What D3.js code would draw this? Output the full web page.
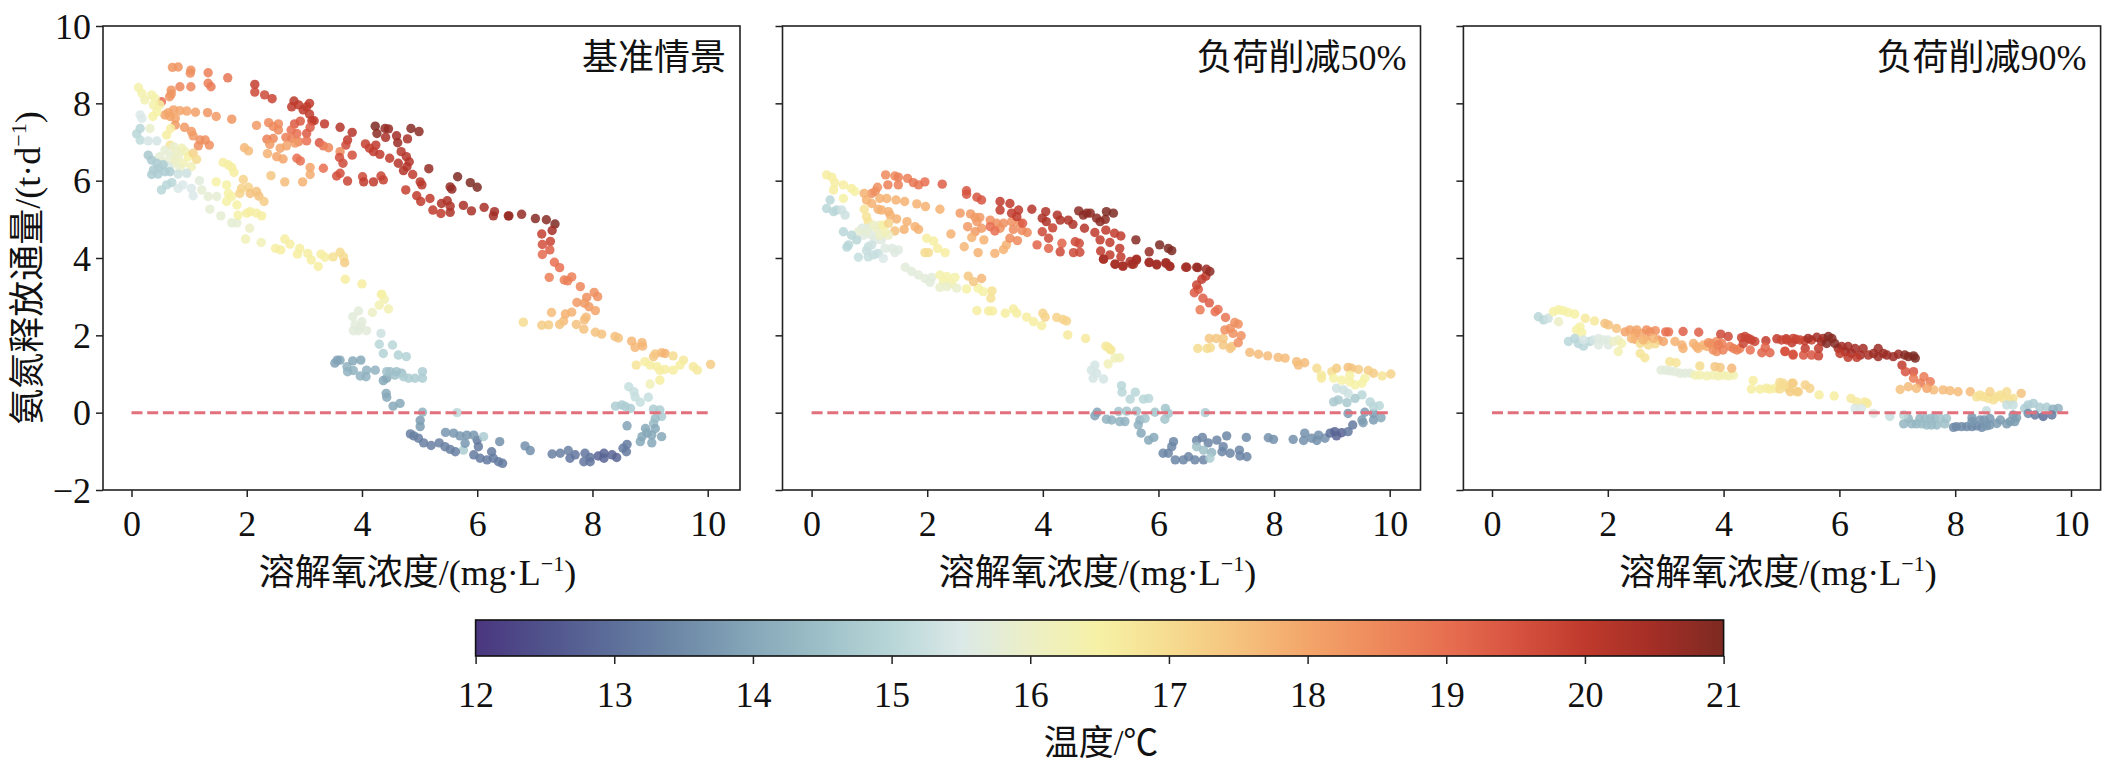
<!DOCTYPE html>
<html><head><meta charset="utf-8">
<style>html,body{margin:0;padding:0;background:#fff}svg{display:block}
text{font-family:"Liberation Serif","Noto Sans CJK SC",serif;fill:#111}</style>
<script src="https://cdn.jsdelivr.net/npm/d3@7/dist/d3.min.js"></script></head><body><svg id="c" width="2106" height="774"></svg>
<script>
const xTicks=[0,2,4,6,8,10], yTicks=[-2,0,2,4,6,8,10], tempTicks=[12,13,14,15,16,17,18,19,20,21];
const panelTitles=["基准情景","负荷削减50%","负荷削减90%"];
const tempStops=[12,12.5,13,13.5,14,14.5,15,15.5,16,16.5,17,17.5,18,18.5,19,19.5,20,20.5,21];
const tempColors=["#4a367f","#50538c","#5d6f9a","#6f8ba8","#86a8b9","#9dc0c8","#b8d6d8","#dbe9e7","#ecefc6","#f6f1a5","#f6dc90","#f5c27e","#f3a56a","#ee8a5c","#e76f50","#d75340","#bf3a2c","#a32e26","#7d2a22"];
// each row: temperature, then [DO, NH3-N flux] readings
const baseline=[
[18.3,[[.71,8.93],[.81,8.94]]],[18.4,[[1.03,8.86],[1.02,8.78]]],[18.7,[[1.33,8.79]]],[18.9,[[1.67,8.66]]],
[19.9,[[2.14,8.49]]],[19.7,[[2.14,8.29],[2.31,8.22]]],[19.8,[[2.44,8.12]]],
[20.1,[[2.82,8.06]]],[20,[[2.78,7.91],[2.9,7.96],[2.98,7.83],[3.09,8.0],[3.04,7.91],[3.09,7.72],[3.13,7.55],[3.17,7.55]]],
[19.4,[[3.1,7.38],[3.04,7.22],[2.93,7.54],[2.83,7.47]]],[19,[[2.77,7.31],[2.87,7.22],[3.04,7.03]]],[18.7,[[2.68,7.12],[2.78,7.09],[2.9,7.01]]],
[18.5,[[2.38,7.5],[2.55,7.47],[2.46,7.4],[2.55,7.31],[2.46,7.09]]],[18.7,[[2.35,7.07]]],[18.2,[[2.4,6.94],[2.17,7.43]]],
[18.3,[[1.74,7.59],[1.32,7.76]]],[18.2,[[1.47,7.66]]],[18.1,[[1.11,7.77]]],[18,[[.96,7.8],[.84,7.81],[.73,7.83],[.64,7.76],[.58,7.7],[.67,7.66],[.76,7.61]]],
[18.2,[[.76,7.44],[.92,7.38],[1.04,7.27],[1.07,7.16]]],[18.4,[[1.19,7.05],[1.28,7.05],[1.35,6.92],[1.16,6.9]]],
[18.6,[[.84,8.43],[1.03,8.43]]],[18.7,[[1.33,8.52]]],[18.8,[[1.38,8.43]]],[18.3,[[.69,8.34],[.69,8.24],[.66,8.17]]],[19,[[.52,8.04]]],
[17.7,[[1.96,6.85]]],[17.6,[[2.03,6.77]]],[17.8,[[2.36,6.7]]],[18,[[2.52,6.62],[2.58,6.84],[2.69,6.9],[2.63,6.56]]],[18.2,[[2.84,6.97]]],
[19,[[2.87,6.58],[2.93,6.51],[3.33,6.32]]],[18,[[3.1,6.34]]],[17.9,[[3.1,6.16]]],[17.4,[[2.42,6.13]]],[17.6,[[2.66,5.97]]],[17.8,[[2.97,5.97]]],
[19.5,[[3.26,6.98]]],[18.9,[[3.33,6.9]]],[18.6,[[3.42,6.85]]],[20,[[3.35,7.47],[3.75,7.05]]],[20.2,[[3.62,7.38],[3.83,7.25]]],[19.7,[[3.72,6.92],[3.67,6.45],[4.01,6.1]]],[18.5,[[3.62,6.75]]],
[19.6,[[3.61,6.6],[3.83,6.66],[3.56,6.12],[3.62,6.19]]],[19.8,[[3.75,5.99],[4.33,6.12]]],[20,[[4.03,5.97],[4.2,5.97]]],[19.9,[[4.37,6.02]]],
[21,[[4.23,7.41]]],[20.8,[[4.26,7.22],[4.99,7.27]]],[20.7,[[4.4,7.35],[4.46,7.34]]],[20.4,[[4.41,7.12],[4.79,7.08]]],[20.5,[[4.6,7.16]]],[20.6,[[4.62,6.98]]],[20.9,[[4.85,7.35]]],
[19.9,[[4.06,6.95],[4.13,6.84]]],[20,[[4.24,6.92],[4.2,6.75],[4.31,6.68],[4.48,6.58]]],[20.2,[[4.68,6.75],[4.77,6.62],[4.82,6.49],[4.63,6.45],[4.78,6.36],[4.72,6.26]]],[20,[[4.88,6.16]]],
[20.7,[[5.16,6.31],[5.53,5.84],[5.56,5.78]]],[20.1,[[5.01,5.97],[5.04,5.89]]],[19.9,[[4.76,5.76]]],[20,[[4.95,5.61],[5.02,5.46],[5.18,5.54],[5.23,5.24],[5.37,5.15]]],
[20.3,[[5.38,5.41],[5.48,5.48],[5.53,5.34],[5.53,5.18]]],[21,[[5.66,6.1],[5.88,5.95],[6.0,5.83]]],[20.4,[[5.76,5.36],[5.9,5.22],[6.12,5.31]]],[20.5,[[6.3,5.2],[6.28,5.09],[6.54,5.09]]],
[20.7,[[6.55,5.09],[6.77,5.13]]],[20.9,[[7.01,5.02],[7.2,4.99]]],[21,[[7.35,4.88]]],[20.5,[[7.3,4.71]]],[19.9,[[7.12,4.62]]],[19.8,[[7.27,4.43]]],[19.6,[[7.13,4.35]]],[19.3,[[7.26,4.21]]],[19.1,[[7.13,4.09]]],
[19,[[7.34,3.89],[7.43,3.75]]],[18.7,[[7.25,3.5],[7.51,3.43],[7.57,3.41],[7.64,3.51]]],[18.6,[[7.79,3.26]]],[18.4,[[8.03,3.11],[8.09,3.0],[7.9,2.98]]],[18.2,[[7.73,2.85],[7.86,2.83],[7.94,2.74]]],[18,[[8.05,2.64]]],
[17.6,[[7.29,2.59],[7.89,2.47],[7.86,2.4],[7.5,2.37]]],[17.8,[[7.64,2.6],[7.53,2.55]]],[17.5,[[7.43,2.28],[7.72,2.28],[7.85,2.16],[8.05,2.08],[8.16,2.03],[8.39,1.97],[8.45,1.93]]],[17,[[6.8,2.34]]],[17.3,[[7.12,2.26],[7.24,2.27]]],
[17.7,[[8.68,1.85],[8.74,1.69],[8.86,1.81],[8.87,1.72]]],[17.4,[[9.09,1.52],[9.06,1.45]]],[17.6,[[9.2,1.55]]],[17.8,[[9.26,1.53]]],[17,[[9.4,1.47]]],[16.7,[[9.58,1.36],[9.75,1.19],[9.82,1.1]]],[17.3,[[10.05,1.25]]],
[16.8,[[8.76,1.23]]],[16.6,[[8.91,1.32],[9.0,1.23],[9.12,1.19],[9.17,1.09],[9.26,1.12],[9.4,1.1],[9.52,1.23],[9.17,.84]]],[16.2,[[9.0,.74]]],
[15.2,[[8.63,.67],[8.72,.54],[8.74,.41],[8.83,.27],[8.97,.4]]],[14.8,[[8.4,.17],[8.51,.2],[8.57,.16],[8.66,.11],[9.06,.09],[9.17,.07],[9.2,-.1]]],[14.4,[[9.09,-.15],[9.06,-.28]]],
[13.9,[[8.6,-.34]]],[14,[[9.2,-.62],[9.09,-.41],[8.92,-.41],[8.95,-.53],[9.03,-.58],[8.86,-.62],[8.83,-.75],[9.03,-.78]]],
[13.2,[[8.6,-.82],[8.53,-.92],[8.59,-1.01]]],[12.8,[[8.42,-1.16],[8.34,-1.09],[8.2,-1.05],[8.1,-1.12],[8.2,-1.18]]],[13.1,[[7.96,-1.16],[7.87,-1.05],[7.85,-1.27],[7.96,-1.27],[7.7,-1.09],[7.61,-1.18]]],[13.3,[[7.58,-.98],[7.44,-1.05],[7.3,-1.07]]],[13.6,[[6.83,-.86],[6.92,-.98],[6.39,-.75]]],
[13.2,[[6.44,-1.31],[6.37,-1.27],[6.25,-1.01],[6.28,-1.18],[6.17,-1.22],[6.05,-1.18],[5.94,-1.09],[6.02,-.88],[6.0,-.71]]],[14.8,[[6.11,-.62],[5.76,-.97]]],
[13.7,[[5.94,-.58],[5.82,-.58],[5.79,-.79],[5.7,-.6],[5.59,-.53],[5.45,-.51]]],[13.3,[[5.62,-1.01],[5.53,-.95],[5.44,-.88],[5.34,-.78],[5.2,-.85],[5.07,-.78],[4.98,-.66],[4.84,-.55],[4.9,-.6]]],
[13.8,[[5.01,-.36],[5.01,-.2]]],[14.2,[[5.05,.01]]],[15,[[5.65,0]]],[14,[[4.54,.17],[4.66,.24],[4.42,.5],[4.43,.4],[4.37,.83],[4.43,.89]]],
[14.5,[[4.43,1.06],[4.49,1.06],[4.6,1.06],[4.69,1.02],[4.57,.97]]],[14.8,[[4.72,.93],[4.81,.89],[4.92,.89],[5.05,.89],[5.05,1.06]]],
[14.2,[[4.23,1.1],[4.08,1.1],[4.07,.93],[3.97,.95],[3.85,1.09],[3.75,1.06],[3.74,1.19]]],[14,[[3.84,1.34],[3.98,1.36],[3.62,1.36]]],[13.9,[[3.53,1.28],[3.57,1.36]]],
[15.3,[[4.33,2.05]]],[15,[[4.3,1.77],[4.53,1.75]]],[14.9,[[4.37,1.53],[4.63,1.49],[4.77,1.45]]],[16.6,[[3.71,3.45],[4.0,3.33]]],[16.3,[[4.34,3.06],[4.39,2.93],[4.3,2.78],[4.46,2.68]]],[16,[[4.18,2.59]]],
[15.7,[[3.94,2.63],[3.84,2.48],[4.0,2.35],[3.85,2.12],[3.94,2.12],[4.08,2.12],[3.98,2.22],[3.88,2.27]]],
[16.4,[[.12,8.41],[.18,8.26],[.35,8.22],[.41,8.13],[.38,7.96]]],[16.3,[[.23,8.09]]],[16.5,[[.49,7.96],[.44,7.78],[.37,7.66]]],[15.9,[[.32,7.35]]],[15.5,[[.15,7.7],[.18,7.61]]],[15,[[.15,7.35],[.09,7.21]]],[15.1,[[.15,7.05]]],[15.4,[[.29,7.03],[.44,7.03]]],[16.6,[[.61,7.18],[.68,7.35]]],[16.8,[[.67,6.92]]],
[15.8,[[.58,6.79],[.67,6.66],[.58,6.49],[.49,6.62]]],[15.9,[[.73,6.88],[.73,6.45],[.84,6.32]]],[16.2,[[.87,6.84],[.9,6.45],[1.04,6.36],[.93,6.75]]],[16,[[.81,6.62],[.78,6.75],[.75,6.53]]],[16.5,[[.99,6.62]]],[17.2,[[1.07,6.71]]],[17,[[1.13,6.55]]],
[14.7,[[.29,6.66],[.35,6.53],[.47,6.32]]],[15.5,[[.64,6.36]]],[14.8,[[.44,6.45],[.38,6.28],[.35,6.16],[.46,6.17],[.58,6.23],[.67,6.23],[.55,6.41]]],[15.3,[[.81,6.17],[.96,6.19]]],[15,[[.7,5.95],[.61,5.89],[.52,5.76]]],[15.5,[[.89,5.89],[.81,5.8],[1.04,5.8],[1.07,5.61]]],
[15.7,[[1.18,6.0]]],[15.8,[[1.22,5.76],[1.33,5.59],[1.36,5.26],[1.48,5.59],[1.55,5.09],[1.74,4.91],[1.83,4.91]]],[16,[[2.05,4.77]]],[16.2,[[1.98,4.49],[2.25,4.4]]],
[16.5,[[1.47,5.97],[1.65,5.89],[1.68,5.67],[1.65,5.46],[1.83,5.37],[1.85,5.11],[1.74,5.59]]],[16.6,[[2.06,5.2],[2.17,5.16],[2.26,5.09],[2.0,5.16],[1.59,6.47],[1.68,6.41],[1.74,6.34],[1.78,6.21]]],
[17.2,[[1.94,6.03],[1.91,5.8],[2.03,5.83],[1.88,5.67]]],[17.5,[[2.06,5.67],[2.17,5.72],[2.21,5.6]]],[17.3,[[2.3,5.46]]],
[16.6,[[2.66,4.49],[2.75,4.36],[2.5,4.25],[2.59,4.21],[2.92,4.25],[2.88,4.1],[3.06,4.12],[3.12,3.95],[3.24,3.78],[3.29,4.1],[3.36,4.02]]],[16.9,[[3.5,4.03]]],[17,[[3.62,4.15],[3.68,4.03]]],[17.3,[[3.7,3.88]]],[16.5,[[4.34,3.06]]]
];
const cut50=[
[16.6,[[.26,6.15],[.35,6.09],[.4,5.95],[.38,5.76],[.55,5.89],[.69,5.8]]],[16.5,[[.75,5.72],[.55,5.54]]],[15,[[.32,5.5],[.26,5.28],[.38,5.2],[.43,5.24]]],[15.3,[[.52,5.24],[.58,5.11]]],[16.8,[[.91,5.26],[.95,5.07],[.98,4.94]]],
[18.5,[[1.28,6.15],[1.44,6.12]]],[18.7,[[1.5,6.09],[1.66,6.06],[1.32,5.89],[1.5,5.89]]],[18.9,[[1.76,5.95],[1.85,5.89]]],[19,[[1.96,5.97]]],[19.3,[[2.26,5.91]]],[18.4,[[1.14,5.83],[1.1,5.72],[1.04,5.67]]],
[17.8,[[.91,5.67],[.95,5.5],[1.04,5.41],[1.18,5.54],[1.3,5.54],[1.15,5.26],[1.21,5.24],[1.46,5.5],[1.61,5.46],[1.82,5.4],[1.97,5.33],[2.22,5.26],[1.33,5.2],[1.36,5.11],[1.47,5.01],[1.65,4.94],[1.6,4.74],[1.79,4.81],[1.85,4.74]]],[17.5,[[1.44,4.7]]],
[18.2,[[2.57,5.16],[2.75,5.14],[2.83,5.05],[2.91,5.05],[2.86,4.94],[2.94,4.77],[2.83,4.68],[2.7,4.81]]],[18.4,[[3.09,4.98],[3.2,4.9],[3.32,4.9],[3.46,4.94],[3.6,4.9],[3.26,4.77]]],[17.8,[[2.77,4.53],[2.41,4.62],[2.98,4.47],[2.88,4.14],[3.17,4.12],[3.32,4.22],[3.37,4.34]]],[17.7,[[2.64,4.29]]],
[18.5,[[3.43,4.51],[3.56,4.45],[3.73,4.66],[3.64,4.71],[3.49,4.74]]],[19,[[3.17,4.7],[3.09,4.81]]],[19.4,[[3.65,4.9]]],
[19.5,[[2.68,5.74],[2.68,5.65],[2.86,5.57],[2.94,5.5]]],[20,[[3.26,5.46],[3.26,5.24],[3.43,5.41],[3.46,5.16],[3.58,5.24],[3.55,5.07]]],[20.2,[[3.81,5.26]]],[20.3,[[4.05,5.2],[3.99,5.03],[4.06,4.94],[4.25,5.11],[4.3,4.98],[4.44,4.98],[4.52,4.87]]],
[20.8,[[4.62,5.22],[4.7,5.11],[4.76,5.16],[4.82,5.16],[4.93,5.03],[4.99,4.94],[5.08,5.0]]],[20.2,[[4.72,4.77]]],[21,[[5.1,5.2],[5.22,5.16],[6.02,4.34],[6.17,4.25],[6.23,4.19]]],[20,[[4.9,4.66],[5.09,4.72],[4.99,4.47],[5.24,4.64],[5.35,4.57],[5.16,4.4]]],[20.9,[[5.61,4.47]]],
[19.7,[[3.99,4.68],[4.1,4.51]]],[19.9,[[4.17,4.78]]],[19.2,[[3.9,4.34],[4.1,4.25],[4.33,4.38]]],[19.7,[[4.56,4.42],[4.63,4.38],[4.3,4.16],[4.53,4.14],[4.64,4.15]]],
[20,[[5.0,4.18],[5.16,4.08],[5.33,4.25],[5.35,4.03],[5.05,3.97],[5.25,3.84],[5.38,3.79]]],[20.3,[[5.51,3.91],[5.62,3.97],[5.57,3.84]]],[20.7,[[5.84,4.16]]],[20.5,[[5.84,3.89],[5.97,3.84],[6.13,3.88],[6.2,3.78],[6.49,3.76],[6.66,3.76]]],
[16.6,[[1.99,4.51],[2.11,4.44],[2.18,4.25],[2.31,4.14]]],[17,[[1.96,4.14],[2.02,4.14]]],
[15.6,[[.87,4.77],[.98,4.77],[1.04,4.59],[.9,4.59],[1.1,4.47],[1.21,4.47]]],[15.8,[[.95,4.68],[.81,4.68]]],[16,[[1.13,4.77],[1.18,4.59],[1.33,4.59],[1.07,4.85],[1.18,4.85]]],[16.2,[[1.27,4.68]]],[16.5,[[1.24,4.85]]],[17.2,[[1.33,4.9]]],
[15,[[.55,4.68],[.69,4.59],[.78,4.47],[.64,4.34],[.61,4.28]]],[15.2,[[.98,4.29],[.95,4.19],[1.07,4.08],[.81,4.02],[.98,4.03],[1.15,4.12]]],[15.3,[[1.04,4.34]]],[15.5,[[1.24,3.99]]],[15.6,[[1.27,4.25],[1.39,4.25],[1.5,4.21],[1.44,4.14]]],
[15.7,[[1.62,3.76],[1.73,3.65],[1.85,3.56],[1.96,3.47],[2.08,3.5],[2.05,3.37]]],[16.4,[[2.22,3.56],[2.34,3.52],[2.48,3.5],[2.28,3.39],[2.42,3.34]]],[15.9,[[2.22,3.24],[2.34,3.26],[2.51,3.22]]],[16.5,[[2.68,3.2],[2.88,3.22],[2.97,3.13]]],[17.4,[[2.71,3.53],[2.8,3.39]]],[17.7,[[2.94,3.47]]],[16.9,[[3.12,3.15],[3.1,2.96]]],
[16.6,[[2.86,2.64],[3.06,2.63],[3.13,2.63],[3.35,2.57],[3.49,2.68],[3.55,2.57],[3.72,2.47],[3.84,2.35],[3.98,2.25]]],[17.2,[[4.0,2.57],[4.04,2.47],[4.24,2.46],[4.35,2.41],[4.41,2.37]]],[16.7,[[4.43,2.01],[4.74,1.92],[5.09,1.72],[5.16,1.64],[5.13,1.69],[5.18,1.62]]],
[16.2,[[5.33,1.42],[5.25,1.41],[5.13,1.26]]],[15.4,[[4.9,1.23],[4.84,1.1],[4.93,1.02],[4.87,.89],[5.05,.87]]],[15,[[5.36,.7],[5.37,.53],[5.51,.35],[5.6,.53],[5.74,.35],[5.83,.37]]],
[13.9,[[4.9,-.08],[4.94,.01]]],[14.2,[[5.1,-.17],[5.19,-.19],[5.33,-.23],[5.42,-.23],[5.68,-.19],[5.65,-.32]]],[14.6,[[5.31,.03],[5.45,.04],[5.62,.04],[5.77,-.15],[5.94,.01],[6.12,.11],[6.11,-.17],[6.17,-.02]]],[14.8,[[6.81,0]]],
[14,[[5.7,-.53],[5.83,-.71],[5.92,-.64]]],[13.4,[[6.26,-.75],[6.23,-.88],[6.08,-1.05],[6.17,-1.05],[6.29,-1.22],[6.43,-1.22],[6.52,-1.14],[6.63,-1.22],[6.78,-1.22],[6.66,-.72],[6.76,-.64],[6.86,-.78],[7.01,-.71],[7.18,-.6],[7.12,-.88],[7.1,-1.01],[7.24,-1.05],[7.4,-.97],[7.41,-1.12],[7.53,-1.14]]],[13.5,[[7.52,-.64]]],
[14.5,[[6.66,-.88],[6.78,-.97]]],[14.3,[[6.92,-1.03]]],[14.8,[[6.89,-1.18]]],[13.6,[[7.9,-.65],[7.99,-.69],[8.33,-.69],[8.53,-.53],[8.51,-.72],[8.65,-.66],[8.77,-.58],[8.74,-.72],[8.88,-.66]]],
[13,[[8.97,-.53]]],[12.8,[[9.05,-.49],[9.17,-.52],[9.08,-.6]]],[13.2,[[9.28,-.49],[9.36,-.32]]],[13.8,[[9.52,-.19],[9.54,-.26],[9.72,-.19],[9.28,-.02],[9.57,.01],[9.72,-.02]]],[14,[[9.85,-.13]]],
[15,[[9.66,.28],[9.72,.16],[9.82,.18],[9.52,.46]]],[14.7,[[9.03,.28],[9.11,.33],[9.26,.26],[9.4,.37]]],[15.3,[[9.08,.63],[9.2,.59],[9.28,.5]]],
[17,[[8.74,1.15],[9,1.06]]],[16.7,[[8.82,.97],[8.82,.89]]],[17.3,[[9.08,1.15],[9.46,1.12],[9.63,1.09],[9.72,1.02]]],[17.5,[[9.28,1.17],[9.34,1.15]]],[16.8,[[9.87,.95]]],[17.2,[[10.02,1.0]]],[16.5,[[9.17,.84],[9.31,.8],[9.4,.72],[9.52,.76],[9.57,.89],[9.31,.97],[9.03,.89]]],
[17.6,[[7.58,1.56],[7.73,1.51],[7.89,1.47],[8.07,1.43],[8.19,1.41],[8.39,1.32],[8.42,1.23],[8.53,1.29]]],[17,[[6.68,1.66],[6.84,1.66],[6.9,1.68]]],[17.4,[[6.88,1.92],[7,1.92],[7.12,1.92],[7.12,1.75],[7.24,1.66],[7.27,1.71]]],
[18.4,[[7.15,2.14],[7.24,2.18],[7.32,2.33],[7.38,2.29],[7.29,2.05],[7.43,1.99],[7.38,1.81]]],[18.9,[[7.16,2.46]]],[19,[[6.98,2.61],[7.03,2.67]]],[18.8,[[6.72,2.66]]],[19.3,[[6.88,2.84],[6.77,2.96]]],[19.4,[[6.62,3.1],[6.69,3.19]]],[19.8,[[6.66,3.3]]],[20,[[6.75,3.45],[6.82,3.53]]],[20.8,[[6.89,3.65]]],[20.6,[[6.83,3.71]]],[20.7,[[6.68,3.75]]],
[20.5,[[6.47,3.76],[6.19,3.79],[6.13,3.86],[5.97,3.82],[5.84,3.88],[5.62,3.95],[5.54,3.84],[5.39,3.79],[5.25,3.84],[5.05,3.97]]]
];
const cut90=[
[15,[[.8,2.48],[.89,2.4]]],[15.3,[[.97,2.44]]],[16.5,[[1.06,2.61],[1.15,2.66],[1.23,2.64],[1.32,2.59],[1.43,2.55],[1.52,2.22],[1.46,2.14],[1.55,2.07]]],[16,[[1.15,2.35]]],[16.7,[[1.61,2.44],[1.77,2.37]]],[17.5,[[1.95,2.31],[2.01,2.27],[2.15,2.18]]],
[18,[[2.3,2.09],[2.38,2.14],[2.5,2.14],[2.47,2.05],[2.59,2.05],[2.47,1.9],[2.67,1.88]]],[18.4,[[2.67,2.14],[2.82,2.12],[2.73,2.09],[2.87,1.88]]],[19,[[3.0,2.09],[3.05,2.09]]],[19.3,[[3.3,2.1],[3.57,2.08]]],
[15,[[1.32,1.84],[1.43,1.92],[1.49,1.79],[1.58,1.72],[1.69,1.84]]],[15.4,[[1.58,1.88],[1.75,1.88]]],[15.6,[[1.84,1.92],[1.84,1.75],[2,1.88],[1.92,1.88],[2.01,1.75]]],[16,[[2.1,1.84],[2.18,1.88]]],[16.3,[[2.24,1.79],[2.18,1.58]]],[16.8,[[2.56,1.53],[2.64,1.42]]],
[17,[[2.56,1.79],[2.7,1.75],[2.82,1.78]]],[17.7,[[2.41,1.92],[2.61,1.88],[2.79,1.92]]],[18,[[2.96,1.84]]],[17.8,[[3.16,1.84],[3.28,1.75],[3.3,1.66],[3.48,1.79],[3.56,1.66],[3.65,1.75],[3.53,1.71],[3.71,1.71]]],[18.4,[[3.74,1.81],[3.82,1.62],[3.88,1.84],[3.79,1.79],[3.88,1.58]]],[18.7,[[3.97,1.79],[3.99,1.62],[4.17,1.66],[4.28,1.66],[3.91,1.75],[4.11,1.71],[4.23,1.62]]],[19,[[4.46,1.62]]],
[19.7,[[3.95,2.03],[4.08,1.97]]],[19.8,[[4.31,1.94],[4.43,1.92],[4.54,1.84],[4.34,1.79],[4.37,1.97],[4.48,1.88]]],[20,[[4.73,1.86],[4.92,1.91],[5.08,1.91],[5.18,1.81],[5.25,1.9]]],[19.2,[[4.72,1.69],[4.66,1.55],[4.8,1.55]]],[19.5,[[5.06,1.59],[5.2,1.51]]],
[16.8,[[3.07,1.32],[3.18,1.29]]],[15.7,[[2.92,1.1],[3.07,1.08],[3.25,1.02],[3.42,1.02],[3.0,1.1],[3.16,1.06],[3.33,1.02]]],[17,[[3.59,1.21]]],[16.3,[[3.59,.97],[3.82,.97],[3.99,.97],[4.17,.97],[3.51,.97],[3.71,.95],[3.91,.95],[4.08,.95]]],[17.4,[[3.85,1.19],[3.94,1.17]]],[17.7,[[4.14,1.15]]],
[16.6,[[4.51,.83],[4.48,.61],[4.63,.61],[4.8,.61],[4.74,.63],[4.89,.63]]],[17,[[4.97,.78],[4.97,.61],[5.12,.63],[5.26,.54],[5.06,.67]]],[17.2,[[5.18,.76]]],
[19.8,[[5.0,1.88],[5.2,1.92],[5.4,1.86],[5.52,1.88],[5.64,1.47],[5.09,1.88],[5.32,1.88]]],[20.5,[[5.61,1.95],[5.72,1.92],[6.04,1.71],[6.15,1.71],[6.27,1.66],[6.41,1.66],[5.46,1.92],[5.69,1.84],[5.98,1.66],[6.1,1.58],[6.21,1.53],[6.36,1.49]]],[20.9,[[5.87,1.92],[5.92,1.79],[5.81,1.97],[5.78,1.79]]],[20,[[6.01,1.53],[6.15,1.43],[6.3,1.43],[5.41,1.66],[5.64,1.66]]],[20.4,[[6.5,1.49]]],[20.6,[[6.67,1.66],[6.67,1.45],[6.82,1.49],[7.02,1.51],[6.59,1.53],[6.76,1.53],[6.93,1.45]]],[20.9,[[7.13,1.49],[7.19,1.45]]],[21,[[7.28,1.47],[7.31,1.41]]],
[19.5,[[5.06,1.58],[5.2,1.49],[5.38,1.49],[5.52,1.49]]],[20,[[7.08,1.23]]],[19.5,[[7.14,1.06],[7.28,1.06]]],[18.8,[[7.28,.89],[7.46,.93],[7.57,.8],[7.4,.76]]],[17.5,[[7.05,.6]]],[17.6,[[7.19,.67],[7.33,.63],[7.63,.59],[7.79,.59],[7.91,.57],[8.05,.54],[8.26,.54]]],[18,[[7.51,.63]]],
[16.9,[[8.37,.41],[8.49,.41],[8.72,.41],[8.83,.37],[9,.37],[8.43,.46],[8.57,.37],[8.78,.46],[8.66,.33],[8.94,.33]]],[17.2,[[8.6,.54]]],[17,[[8.89,.54]]],[17.5,[[9.14,.5]]],[15.2,[[8.89,.2],[9.0,.2],[8.54,.05]]],
[14.8,[[9.26,.2],[9.35,.24],[9.46,.14],[9.58,.14],[9.2,.11]]],[14.2,[[9.78,.11],[9.69,.09]]],[13.7,[[9.0,-.06]]],[13.5,[[9.26,-.02]]],[13.2,[[9.38,-.06],[9.67,-.06]]],[13,[[9.52,-.1]]],
[14.3,[[7.11,-.29],[7.19,-.15],[7.33,-.29],[7.39,-.15],[7.25,-.29]]],[14.4,[[7.51,-.32],[7.57,-.15],[7.68,-.32],[7.42,-.29],[7.59,-.32],[7.48,-.15],[7.65,-.15]]],[14.6,[[7.74,-.15],[7.85,-.15]]],[14.5,[[7.82,-.29]]],
[13.5,[[7.97,-.38],[8.11,-.36],[8.29,-.36],[8.46,-.38],[8.02,-.36],[8.2,-.36],[8.37,-.34]]],[13.7,[[8.29,-.13],[8.43,-.19],[8.6,-.32],[8.6,-.15],[8.54,-.34],[8.29,-.23],[8.5,-.19]]],[13.8,[[8.78,-.19],[8.89,-.29],[9.03,-.23],[9.06,-.13],[8.72,-.28],[8.95,-.23]]],
[17,[[5.03,.76]]],[17.3,[[5.2,.76],[5.15,.54],[5.29,.54]]],[17.2,[[5.41,.72],[5.49,.63]]],[16.6,[[5.65,.46],[5.91,.43]]],[16.7,[[6.2,.37],[6.3,.28],[6.48,.24],[6.44,.28]]],[15.5,[[6.27,.11],[6.38,.11]]],[15.6,[[6.59,-.02]]],[15.2,[[6.87,-.1]]],[15,[[7.11,-.06]]]
];
const svg=d3.select("#c");
const color=d3.scaleLinear().domain(tempStops).range(tempColors);
const H=[[103,740,131.5,707.7],[782.5,1420.5,811.6,1389.7],[1463.4,2100.6,1492,2071]];
const y=d3.scaleLinear().domain([-2,10]).range([490,26]);
const FS=36;
[baseline,cut50,cut90].forEach((rows,i)=>{
  const [L,R,x0,x10]=H[i];
  const x=d3.scaleLinear().domain([0,10]).range([x0,x10]);
  const g=svg.append("g");
  const pts=rows.flatMap(([t,p])=>p.map(q=>({t,x:q[0],y:q[1]})));
  g.selectAll("circle").data(pts).join("circle").attr("cx",d=>x(d.x)).attr("cy",d=>y(d.y)).attr("r",4.7)
    .attr("fill",d=>color(d.t)).attr("fill-opacity",.85);
  g.append("line").attr("x1",x(0)).attr("x2",x(10)).attr("y1",y(0)).attr("y2",y(0))
    .attr("stroke","#e2707c").attr("stroke-width",3).attr("stroke-dasharray","11,4.7");
  g.append("rect").attr("x",L).attr("y",26).attr("width",R-L).attr("height",464).attr("fill","none").attr("stroke","#222").attr("stroke-width",1.6);
  const ax=g.append("g").attr("transform","translate(0,490)").call(d3.axisBottom(x).tickValues(xTicks).tickSize(7).tickPadding(7).tickFormat(d3.format("d")));
  ax.select(".domain").remove();
  ax.selectAll("line").attr("stroke","#222").attr("stroke-width",1.5);
  ax.selectAll("text").attr("font-size",FS).attr("dy",null).attr("y",null).attr("dominant-baseline","central").attr("transform","translate(0,34)");
  const ay=g.append("g").attr("transform",`translate(${L},0)`).call(d3.axisLeft(y).tickValues(yTicks).tickSize(7).tickPadding(5).tickFormat(i===0?(d=>String(d).replace("-","\u2212")):()=>""));
  ay.select(".domain").remove();
  ay.selectAll("line").attr("stroke","#222").attr("stroke-width",1.5);
  ay.selectAll("text").attr("font-size",FS).attr("dy",null).attr("dominant-baseline","central");
  g.append("text").attr("x",R-14).attr("y",58).attr("text-anchor","end").attr("dominant-baseline","central").attr("font-size",36).text(panelTitles[i]);
  const xl=g.append("text").attr("x",(L+R)/2-4).attr("y",585).attr("text-anchor","middle").attr("font-size",36);
  xl.append("tspan").text("溶解氧浓度/(mg·L");
  xl.append("tspan").attr("dy",-14).attr("font-size",22).text("−1");
  xl.append("tspan").attr("dy",14).text(")");
});
const yl=svg.append("text").attr("transform","translate(40,268) rotate(-90)").attr("text-anchor","middle").attr("font-size",36);
yl.append("tspan").text("氨氮释放通量/(t·d");
yl.append("tspan").attr("dy",-14).attr("font-size",22).text("−1");
yl.append("tspan").attr("dy",14).text(")");
// colour bar
const cx=d3.scaleLinear().domain([12,21]).range([475.6,1723.6]);
const grad=svg.append("defs").append("linearGradient").attr("id","cb");
grad.selectAll("stop").data(tempStops).join("stop").attr("offset",d=>(d-12)/9).attr("stop-color",d=>color(d));
svg.append("rect").attr("x",cx(12)).attr("y",620).attr("width",cx(21)-cx(12)).attr("height",36).attr("fill","url(#cb)").attr("stroke","#111").attr("stroke-width",1.6);
const cax=svg.append("g").attr("transform","translate(0,656)").call(d3.axisBottom(cx).tickValues(tempTicks).tickSize(8).tickFormat(d3.format("d")));
cax.select(".domain").remove();
cax.selectAll("line").attr("stroke","#222").attr("stroke-width",1.5);
cax.selectAll("text").attr("font-size",FS).attr("dy",null).attr("y",null).attr("dominant-baseline","central").attr("transform","translate(0,39)");
svg.append("text").attr("x",1101).attr("y",743).attr("text-anchor","middle").attr("dominant-baseline","central").attr("font-size",35).text("温度/℃");
</script></body></html>
